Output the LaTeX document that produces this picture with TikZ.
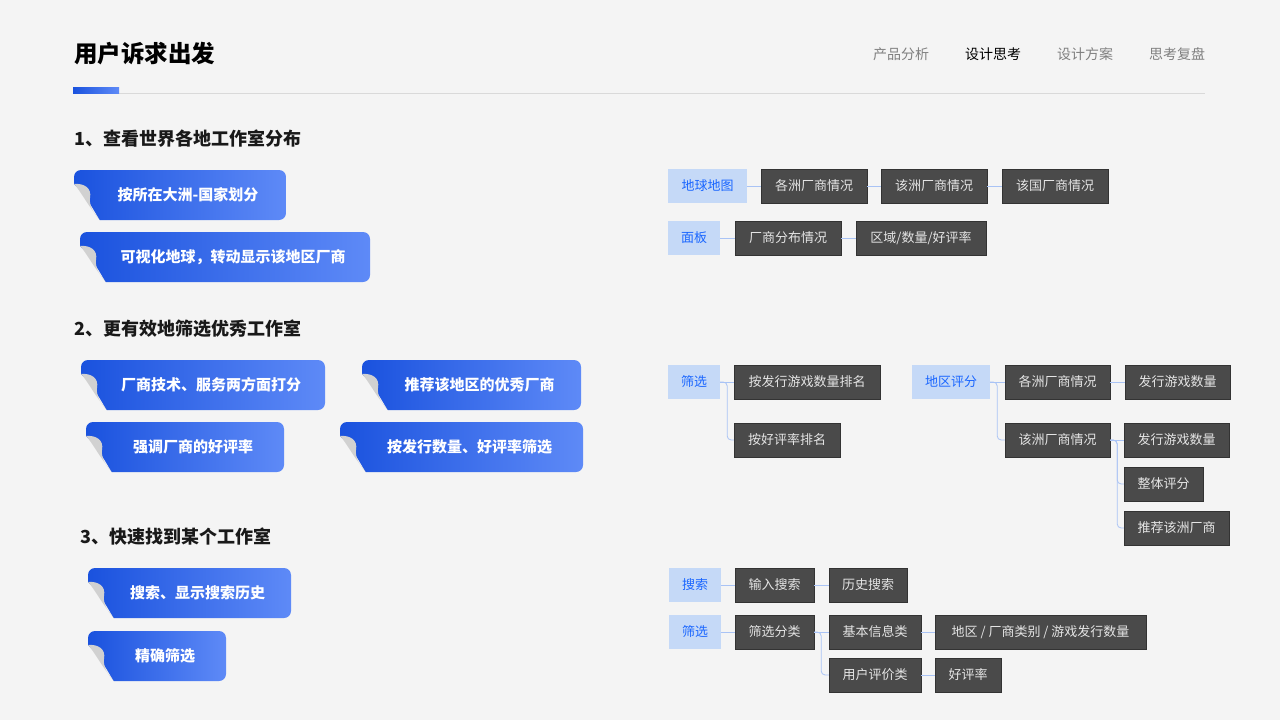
\documentclass[tikz,border=0pt]{standalone}
\usepackage{fontspec}
\setmainfont{Noto Sans CJK SC}
\usetikzlibrary{positioning}
\definecolor{bgc}{HTML}{F4F4F4}
\definecolor{darkc}{HTML}{4A4A4A}
\definecolor{lightc}{HTML}{C5D9F7}
\definecolor{linkc}{HTML}{A9C3F5}
\definecolor{bluec}{HTML}{1A66FF}
\definecolor{pillL}{HTML}{1A52DE}
\definecolor{pillR}{HTML}{5E8AF7}
\tikzset{
  dbox/.style={draw=black!80, fill=darkc, text=white!90!black, font=\fontsize{13}{13}\selectfont,
               minimum height=34pt, inner sep=0pt},
  lbox/.style={fill=lightc, text=bluec, font=\fontsize{13}{13}\selectfont,
               minimum height=34pt, inner sep=0pt},
  link/.style={draw=linkc, line width=0.8pt, rounded corners=4pt},
  head/.style={font=\fontsize{18}{18}\selectfont\bfseries, anchor=west, text=black!90},
  tab/.style={font=\fontsize{14}{14}\selectfont, text=black!50}
}
% pill: x1, y1, x2, text
\newcommand{\pill}[5]{%
  \shade[left color=pillL, right color=pillR, rounded corners=7pt]
    (#1,#2) rectangle (#3,#2+50);
  \fill[bgc] (#1-1,#2+14) .. controls (#1+6,#2+18) and (#1+14,#2+30) .. (#1+26,#2+51)
    -- (#1-1,#2+51) -- cycle;
  \fill[black!18] (#1,#2+14) .. controls (#1+10,#2+13) and (#1+18,#2+18) .. (#1+16,#2+28)
    .. controls (#1+15,#2+36) and (#1+20,#2+44) .. (#1+26,#2+50)
    .. controls (#1+14,#2+36) and (#1+6,#2+20) .. cycle;
  \node[text=white, font=\fontsize{15}{15}\selectfont\bfseries] (#4) at ({(#1+#3)/2+8},#2+25) {#5};}
\begin{document}
\begin{tikzpicture}[x=1pt, y=-1pt]
\fill[bgc] (0,0) rectangle (1280,720);
\useasboundingbox (0,0) rectangle (1280,720);
% header
\node[font=\fontsize{23.5}{24}\selectfont\bfseries, anchor=west, inner sep=0pt] (title) at (74,54) {用户诉求出发};
\node[tab] (t1) at (901,54) {产品分析};
\node[tab, text=black] (t2) at (993,54) {设计思考};
\node[tab] (t3) at (1085,54) {设计方案};
\node[tab] (t4) at (1177,54) {思考复盘};
\draw[black!15, line width=0.8pt] (73,93) -- (1205,93);
\fill[left color=pillL, right color=pillR] (73,87) rectangle (119,93);
% left column
\node[head, inner sep=0pt] (h1) at (74,139) {1、查看世界各地工作室分布};
\node[head, inner sep=0pt] (h2) at (74,329) {2、更有效地筛选优秀工作室};
\node[head, inner sep=0pt] (h3) at (80,537) {3、快速找到某个工作室};
\pill{74}{170}{286}{p1}{按所在大洲-国家划分}
\pill{80}{232}{370}{p2}{可视化地球，转动显示该地区厂商}
\pill{81}{360}{325}{p3}{厂商技术、服务两方面打分}
\pill{362}{360}{581}{p4}{推荐该地区的优秀厂商}
\pill{86}{422}{284}{p5}{强调厂商的好评率}
\pill{340}{422}{583}{p6}{按发行数量、好评率筛选}
\pill{88}{568}{291}{p7}{搜索、显示搜索历史}
\pill{88}{631}{226}{p8}{精确筛选}
% section 1 tree
\node[lbox, minimum width=79pt] (map) at (707.5,186) {地球地图};
\node[dbox, minimum width=106pt] (mapA) at (814,186) {各洲厂商情况};
\node[dbox, minimum width=106pt] (mapB) at (934,186) {该洲厂商情况};
\node[dbox, minimum width=106pt] (mapC) at (1055,186) {该国厂商情况};
\node[lbox, minimum width=52pt] (panel) at (694,238) {面板};
\node[dbox, minimum width=106pt] (panelA) at (788,238) {厂商分布情况};
\node[dbox, minimum width=130pt] (panelB) at (921,238) {区域/数量/好评率};
\draw[link] (map) -- (mapA);
\draw[link] (mapA) -- (mapB);
\draw[link] (mapB) -- (mapC);
\draw[link] (panel) -- (panelA);
\draw[link] (panelA) -- (panelB);
% section 2 tree
\node[lbox, minimum width=52pt] (filt) at (694,382) {筛选};
\node[dbox, minimum width=146pt] (filtA) at (807,382) {按发行游戏数量排名};
\node[dbox, minimum width=106pt] (filtB) at (787,440) {按好评率排名};
\draw[link] (filt) -- (filtA);
\draw[link] (filt.east) -- ++(7,0) |- (filtB.west);
\node[lbox, minimum width=78pt] (area) at (951,382) {地区评分};
\node[dbox, minimum width=105pt] (areaA) at (1057.5,382) {各洲厂商情况};
\node[dbox, minimum width=105pt] (areaA1) at (1177.5,382) {发行游戏数量};
\node[dbox, minimum width=105pt] (areaB) at (1057.5,440) {该洲厂商情况};
\node[dbox, minimum width=105pt] (areaB1) at (1176.5,440) {发行游戏数量};
\node[dbox, minimum width=79pt] (areaB2) at (1163.5,484) {整体评分};
\node[dbox, minimum width=105pt] (areaB3) at (1176.5,528) {推荐该洲厂商};
\draw[link] (area) -- (areaA);
\draw[link] (area.east) -- ++(7,0) |- (areaB.west);
\draw[link] (areaA) -- (areaA1);
\draw[link] (areaB) -- (areaB1);
\draw[link] (areaB.east) -- ++(7,0) |- (areaB2.west);
\draw[link] (areaB.east) -- ++(7,0) |- (areaB3.west);
% section 3 tree
\node[lbox, minimum width=52pt] (search) at (695,585) {搜索};
\node[dbox, minimum width=79pt] (searchA) at (774.5,585) {输入搜索};
\node[dbox, minimum width=78pt] (searchB) at (868,585) {历史搜索};
\node[lbox, minimum width=52pt] (sift) at (695,632) {筛选};
\node[dbox, minimum width=79pt] (siftA) at (774.5,632) {筛选分类};
\node[dbox, minimum width=92pt] (siftB) at (875,632) {基本信息类};
\node[dbox, minimum width=211pt] (siftB1) at (1040.5,632) {地区 / 厂商类别 / 游戏发行数量};
\node[dbox, minimum width=92pt] (siftC) at (875,675) {用户评价类};
\node[dbox, minimum width=66pt] (siftC1) at (968,675) {好评率};
\draw[link] (search) -- (searchA);
\draw[link] (searchA) -- (searchB);
\draw[link] (sift) -- (siftA);
\draw[link] (siftA) -- (siftB);
\draw[link] (siftA.east) -- ++(7,0) |- (siftC.west);
\draw[link] (siftB) -- (siftB1);
\draw[link] (siftC) -- (siftC1);
\end{tikzpicture}
\end{document}
